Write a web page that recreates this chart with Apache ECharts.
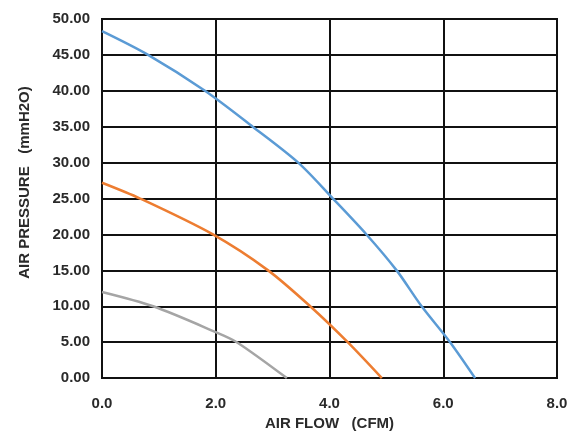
<!DOCTYPE html>
<html><head><meta charset="utf-8">
<script src="https://cdn.jsdelivr.net/npm/echarts@6/dist/echarts.min.js"></script>
<style>html,body{margin:0;padding:0;background:#fff}#c{width:587px;height:436px}</style>
</head><body><div id="c"></div>
<script>
const xTicks = ["0.0","2.0","4.0","6.0","8.0"];
const blueFlow = [0, 0.81, 1.81, 2.65, 3.45, 4.06, 4.65, 5.18, 5.62, 6.12, 6.56];
const bluePressure = [48.3, 45, 40, 35, 30, 25, 20, 15, 10, 5, 0];
const orangeFlow = [0, 0.67, 1.95, 2.92, 3.66, 4.32, 4.92];
const orangePressure = [27.2, 25, 20, 15, 10, 5, 0];
const grayFlow = [0, 0.9, 2.0, 2.37, 3.25];
const grayPressure = [12.0, 10, 6.4, 5, 0];

const pairs = (xs, ys) => xs.map((x, i) => [x, ys[i]]);
const font = "'Liberation Sans', Arial, sans-serif";
const txt = {fontFamily: font, fontSize: 15, fontWeight: 'bold', color: '#2a2a2a'};
const chart = echarts.init(document.getElementById('c'));
chart.setOption({
  animation: false,
  grid: {left: 102, top: 19, right: 30, bottom: 53, show: true, borderColor: '#111', borderWidth: 2, backgroundColor: 'transparent'},
  xAxis: {
    type: 'value', min: 0, max: 8, interval: 2,
    name: 'AIR FLOW   (CFM)', nameLocation: 'middle', nameGap: 37,
    nameTextStyle: txt,
    axisLine: {lineStyle: {color: '#111', width: 2}},
    axisTick: {show: false},
    axisLabel: Object.assign({margin: 18, formatter: v => xTicks[Math.round(v / 2)]}, txt),
    splitLine: {show: true, lineStyle: {color: '#111', width: 2}}
  },
  yAxis: {
    type: 'value', min: 0, max: 50, interval: 5,
    name: 'AIR PRESSURE   (mmH2O)', nameLocation: 'middle', nameGap: 70,
    nameTextStyle: Object.assign({padding: [0, 0, 0, 32]}, txt),
    axisLine: {show: true, lineStyle: {color: '#111', width: 2}},
    axisTick: {show: false},
    axisLabel: Object.assign({margin: 12, formatter: v => v.toFixed(2)}, txt),
    splitLine: {show: true, lineStyle: {color: '#111', width: 2}}
  },
  series: [
    {type: 'line', data: pairs(blueFlow, bluePressure), smooth: 0.3, showSymbol: false, lineStyle: {color: '#5B9BD5', width: 2.5}},
    {type: 'line', data: pairs(orangeFlow, orangePressure), smooth: 0.3, showSymbol: false, lineStyle: {color: '#ED7D31', width: 2.5}},
    {type: 'line', data: pairs(grayFlow, grayPressure), smooth: 0.3, showSymbol: false, lineStyle: {color: '#A5A5A5', width: 2.5}}
  ]
});
</script></body></html>
